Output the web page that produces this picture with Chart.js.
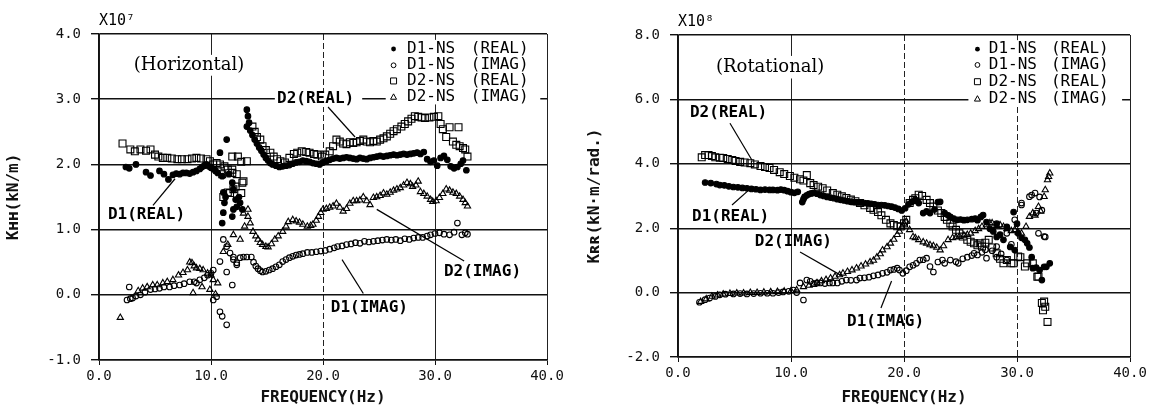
<!DOCTYPE html>
<html><head><meta charset="utf-8">
<script src="https://cdn.jsdelivr.net/npm/chart.js@4.4.1/dist/chart.umd.min.js"></script>
<style>
html,body{margin:0;padding:0;background:#fff;}
#wrap{position:relative;width:1154px;height:410px;overflow:hidden;}
.box{position:absolute;top:0;height:410px;width:577px;}
</style></head><body>
<div id="wrap">
<div class="box" style="left:0"><canvas id="c1" width="577" height="410"></canvas></div>
<div class="box" style="left:577px"><canvas id="c2" width="577" height="410"></canvas></div>
</div>
<script>
// ---------------- DATA: Horizontal (x10^7 kN/m) ----------------
const hTicksX = [0, 10, 20, 30, 40];
const hTicksY = [-1, 0, 1, 2, 3, 4];
const hD1RealF = [2.4,2.7,3.3,4.2,4.6,5.4,5.8,6.2,6.6,6.9,7.2,7.5,7.8,8.1,8.4,8.7,9.0,9.2,9.4,9.6,9.8,10.0,10.2,10.4,10.6,10.8,11.4,11.0,11.1,11.2,11.1,11.0,11.9,12.0,12.2,12.6,12.8,12.0,11.9,12.5,11.6,12.3,11.3,13.2,13.3,13.4,13.2,13.5,13.7,13.9,14.1,14.3,14.5,14.7,14.9,15.1,15.3,15.5,15.8,16.1,16.4,16.7,17.0,17.3,17.6,17.9,18.2,18.5,18.8,19.1,19.4,19.7,20.0,20.3,20.6,20.9,21.2,21.5,21.8,22.1,22.4,22.7,23.0,23.3,23.6,23.9,24.2,24.5,24.8,25.1,25.4,25.7,26.0,26.3,26.6,26.9,27.2,27.5,27.8,28.1,28.4,28.7,29.0,29.3,29.6,29.9,30.2,30.5,30.8,31.1,31.4,31.7,32.0,32.3,32.5,32.8];
const hD1RealV = [1.96,1.94,2.00,1.88,1.83,1.90,1.85,1.77,1.84,1.86,1.85,1.87,1.87,1.86,1.88,1.90,1.93,1.96,1.98,2.00,1.97,1.95,1.93,1.90,1.87,2.18,2.38,1.82,1.57,1.41,1.26,1.10,1.72,1.62,1.46,1.41,1.31,1.31,1.20,1.50,1.85,1.35,1.50,2.84,2.74,2.64,2.58,2.52,2.45,2.38,2.32,2.26,2.21,2.15,2.10,2.06,2.02,2.00,1.98,1.96,1.97,1.98,1.99,2.01,2.03,2.04,2.06,2.05,2.04,2.02,2.01,2.00,2.03,2.05,2.07,2.09,2.10,2.09,2.10,2.11,2.10,2.09,2.08,2.10,2.09,2.08,2.10,2.11,2.12,2.13,2.12,2.13,2.14,2.15,2.14,2.15,2.16,2.15,2.16,2.17,2.18,2.16,2.19,2.08,2.04,2.06,1.98,2.10,2.13,2.07,1.97,1.94,1.96,2.01,2.06,1.91];
const hD1ImagF = [2.7,2.5,2.8,3.0,3.3,3.7,4.1,4.6,5.0,5.4,5.8,6.3,6.7,7.2,7.6,8.1,8.5,8.7,9.0,9.4,9.7,10.0,10.2,10.2,10.5,10.8,11.0,11.4,11.1,11.4,11.7,10.8,12.0,12.3,11.9,11.4,12.6,12.0,12.3,12.9,13.2,13.6,13.8,14.0,14.2,14.4,14.6,14.9,15.2,15.5,15.8,16.1,16.4,16.7,17.0,17.3,17.6,17.9,18.2,18.6,19.0,19.4,19.8,20.2,20.6,21.0,21.3,21.7,22.1,22.5,22.9,23.3,23.7,24.1,24.5,24.9,25.3,25.7,26.1,26.5,26.9,27.3,27.7,28.1,28.5,28.9,29.3,29.6,30.0,30.4,30.8,31.3,31.7,32.0,32.4,32.7,32.9];
const hD1ImagV = [0.12,-0.08,-0.06,-0.05,-0.02,0.00,0.04,0.08,0.09,0.10,0.12,0.12,0.14,0.15,0.17,0.20,0.20,0.18,0.23,0.26,0.30,0.33,0.38,-0.08,-0.03,-0.26,-0.33,-0.46,0.85,0.74,0.64,0.51,0.54,0.46,0.15,0.35,0.57,0.58,0.49,0.58,0.58,0.58,0.50,0.44,0.40,0.37,0.35,0.36,0.38,0.40,0.43,0.46,0.51,0.54,0.57,0.59,0.61,0.62,0.63,0.65,0.65,0.66,0.67,0.68,0.70,0.72,0.74,0.75,0.77,0.78,0.80,0.79,0.82,0.81,0.82,0.83,0.84,0.85,0.84,0.85,0.83,0.86,0.85,0.87,0.88,0.88,0.90,0.92,0.94,0.95,0.93,0.92,0.96,1.10,0.92,0.95,0.93];
const hD2RealF = [2.1,2.8,3.2,3.7,4.2,4.6,5.0,5.3,5.7,6.1,6.5,7.0,7.4,7.9,8.3,8.7,9.1,9.6,9.9,10.2,10.5,10.8,11.2,11.5,11.9,11.9,12.4,12.7,13.2,11.1,11.5,12.0,12.8,12.3,11.9,11.0,11.7,12.2,12.7,12.9,13.7,13.9,14.1,14.4,14.6,14.9,15.3,15.6,15.9,16.2,16.6,17.0,17.4,17.7,18.1,18.5,18.8,19.2,19.5,19.9,20.2,20.6,20.9,21.2,21.5,21.8,22.1,22.4,22.7,23.0,23.3,23.6,23.9,24.2,24.5,24.8,25.1,25.4,25.7,26.0,26.3,26.6,27.0,27.3,27.6,27.9,28.2,28.5,28.8,29.1,29.5,29.9,30.3,30.5,30.7,31.0,31.3,31.6,31.9,32.1,32.2,32.5,32.7,32.9];
const hD2RealV = [2.32,2.23,2.20,2.23,2.21,2.23,2.15,2.12,2.10,2.10,2.09,2.08,2.08,2.08,2.09,2.10,2.09,2.08,2.05,2.00,2.02,2.00,1.97,1.92,1.87,2.12,2.12,2.04,2.05,1.50,1.57,1.62,1.72,1.85,1.92,1.85,1.56,1.66,1.56,1.74,2.58,2.50,2.42,2.38,2.28,2.22,2.18,2.12,2.08,2.05,2.03,2.10,2.16,2.18,2.20,2.19,2.18,2.16,2.15,2.12,2.15,2.20,2.28,2.38,2.35,2.32,2.31,2.34,2.33,2.34,2.36,2.38,2.35,2.34,2.36,2.35,2.38,2.40,2.43,2.47,2.51,2.54,2.58,2.62,2.66,2.70,2.74,2.73,2.72,2.71,2.72,2.73,2.74,2.62,2.54,2.42,2.57,2.35,2.30,2.57,2.28,2.25,2.23,2.12];
const hD2ImagF = [1.9,3.5,3.9,4.3,4.8,5.2,5.7,6.1,6.6,7.1,7.5,7.9,8.1,8.3,8.5,8.7,9.0,9.3,9.7,10.0,10.2,10.6,9.9,8.4,9.2,10.4,11.1,11.5,12.0,12.6,12.9,13.0,13.3,13.3,13.5,13.75,14.0,14.2,14.4,14.6,14.9,15.1,15.4,15.7,16.0,16.4,16.7,16.9,17.3,17.6,17.9,18.2,18.6,18.9,19.1,19.4,19.6,19.8,20.0,20.3,20.6,20.9,21.2,21.5,21.8,22.1,22.4,22.7,23.0,23.3,23.6,23.9,24.2,24.5,24.8,25.1,25.4,25.7,26.0,26.3,26.6,26.9,27.2,27.5,27.8,28.0,28.3,28.5,28.7,29.0,29.3,29.6,29.8,30.1,30.4,30.7,31.0,31.3,31.6,31.9,32.2,32.5,32.7,32.9];
const hD2ImagV = [-0.35,0.06,0.10,0.12,0.15,0.15,0.18,0.20,0.23,0.30,0.34,0.38,0.50,0.49,0.44,0.41,0.40,0.38,0.33,0.30,0.23,0.18,0.08,0.03,0.12,0.01,0.66,0.77,0.92,0.85,1.25,1.05,1.20,1.31,1.10,0.97,0.90,0.85,0.80,0.77,0.74,0.73,0.78,0.85,0.90,0.97,1.05,1.12,1.15,1.13,1.11,1.08,1.05,1.06,1.08,1.14,1.20,1.26,1.31,1.32,1.34,1.36,1.40,1.34,1.28,1.32,1.40,1.44,1.44,1.45,1.50,1.44,1.38,1.49,1.50,1.52,1.56,1.54,1.57,1.60,1.62,1.64,1.68,1.72,1.70,1.66,1.68,1.74,1.58,1.55,1.51,1.46,1.43,1.44,1.49,1.55,1.62,1.60,1.57,1.55,1.51,1.46,1.41,1.36];

// ---------------- DATA: Rotational (x10^8 kN·m/rad.) ----------------
const rTicksX = [0, 10, 20, 30, 40];
const rTicksY = [-2, 0, 2, 4, 6, 8];
const rD1RealF = [2.4,2.9,3.4,3.7,4.1,4.5,4.9,5.3,5.7,6.1,6.5,6.9,7.3,7.7,8.1,8.4,8.8,9.1,9.4,9.7,10.0,10.3,10.6,11.0,11.1,11.2,11.4,11.6,11.8,12.0,12.3,12.6,12.9,13.2,13.5,13.8,14.1,14.4,14.7,15.0,15.3,15.6,15.9,16.2,16.5,16.8,17.1,17.4,17.7,18.0,18.3,18.6,18.9,19.2,19.5,19.8,20.1,20.4,20.7,21.0,21.3,21.7,22.0,22.3,22.7,23.0,23.2,23.6,23.9,24.1,24.4,24.7,25.0,25.3,25.6,26.0,26.3,26.5,26.8,27.0,27.3,27.6,27.9,28.2,28.2,28.5,28.8,29.1,29.4,29.7,29.8,30.0,30.1,30.4,30.7,30.9,31.1,31.3,31.4,31.7,32.0,32.2,32.4,32.6,32.9];
const rD1RealV = [3.42,3.40,3.37,3.34,3.33,3.30,3.28,3.27,3.25,3.24,3.22,3.21,3.19,3.20,3.19,3.19,3.18,3.20,3.18,3.15,3.12,3.10,3.13,2.81,2.90,2.97,3.02,3.06,3.08,3.10,3.07,3.03,3.00,2.97,2.95,2.93,2.90,2.88,2.86,2.84,2.82,2.81,2.80,2.80,2.78,2.77,2.76,2.74,2.72,2.72,2.71,2.69,2.67,2.64,2.60,2.55,2.62,2.74,2.82,2.88,2.78,2.47,2.52,2.47,2.58,2.81,2.82,2.47,2.40,2.35,2.30,2.26,2.27,2.25,2.26,2.28,2.30,2.25,2.35,2.41,2.19,1.98,1.90,2.14,1.73,1.80,1.64,2.04,1.42,2.50,1.32,2.14,1.84,1.70,1.64,1.53,1.40,1.10,0.76,0.78,0.70,0.39,0.80,0.80,0.91];
const rD1ImagF = [1.9,2.4,2.8,3.3,3.7,4.2,4.9,5.5,6.1,6.7,7.3,7.9,8.4,8.9,9.3,9.8,10.2,10.5,10.8,11.1,11.4,11.7,12.0,12.3,12.6,13.0,13.4,13.7,14.1,14.5,14.9,15.3,15.8,16.1,16.5,16.9,17.3,17.7,18.1,18.5,18.8,19.1,19.4,19.6,19.9,20.2,20.5,20.8,21.1,21.4,21.7,22.0,22.3,22.6,23.0,23.4,23.6,24.1,24.6,24.8,25.2,25.6,26.0,26.2,26.5,26.9,27.2,27.3,27.8,28.2,28.2,28.6,29.1,29.1,29.5,29.8,30.4,30.4,31.1,31.3,31.6,32.0,31.7,32.2,31.9,32.4,32.5];
const rD1ImagV = [-0.30,-0.22,-0.17,-0.12,-0.07,-0.05,-0.04,-0.03,-0.04,-0.03,-0.02,-0.02,-0.02,0.00,0.02,0.04,0.08,0.00,0.30,-0.23,0.39,0.35,0.28,0.30,0.30,0.28,0.30,0.30,0.30,0.35,0.39,0.38,0.39,0.45,0.46,0.48,0.52,0.55,0.60,0.63,0.70,0.72,0.76,0.70,0.60,0.68,0.80,0.85,0.91,1.01,1.02,1.07,0.81,0.64,0.95,1.01,0.91,1.01,0.96,0.91,1.05,1.10,1.15,1.22,1.17,1.25,1.33,1.07,1.30,1.43,1.10,1.20,1.01,1.84,1.50,2.26,2.78,2.72,2.98,3.03,3.09,2.97,2.47,2.56,1.84,1.74,1.73];
const rD2RealF = [2.1,2.4,2.7,3.0,3.3,3.7,4.0,4.4,4.8,5.1,5.5,5.9,6.4,6.8,7.3,7.7,8.1,8.5,9.0,9.4,9.9,10.3,10.8,11.1,11.4,11.7,12.0,12.4,12.8,13.2,13.7,14.1,14.5,14.9,15.3,15.7,16.1,16.5,17.0,17.3,17.7,18.0,18.4,18.8,19.1,19.4,19.7,20.0,20.2,20.5,20.8,21.0,21.3,21.6,22.0,22.3,22.6,23.0,23.3,23.6,23.8,24.1,24.3,24.6,24.9,25.2,25.6,25.9,26.2,26.5,26.7,26.9,27.2,27.5,27.8,28.2,28.5,28.8,29.1,29.5,29.7,30.1,30.3,30.7,30.9,31.4,31.8,31.9,32.2,32.4,32.5,32.3,32.7];
const rD2RealV = [4.20,4.27,4.27,4.24,4.20,4.19,4.18,4.15,4.12,4.09,4.06,4.04,4.02,3.98,3.93,3.90,3.87,3.81,3.74,3.68,3.62,3.57,3.52,3.48,3.65,3.40,3.34,3.29,3.24,3.17,3.09,3.04,2.99,2.94,2.89,2.84,2.78,2.71,2.63,2.57,2.50,2.40,2.26,2.15,2.10,2.06,2.05,2.15,2.26,2.78,2.88,2.93,3.04,3.00,2.88,2.78,2.67,2.55,2.47,2.35,2.26,2.15,2.05,1.95,1.84,1.74,1.64,1.58,1.53,1.47,1.53,1.43,1.55,1.64,1.40,1.22,1.05,0.91,1.01,0.91,0.91,1.12,1.10,0.81,0.91,0.91,0.49,0.50,-0.32,-0.28,-0.44,-0.55,-0.91];
const rD2ImagF = [2.0,2.5,3.0,3.5,4.0,4.6,5.2,5.8,6.4,7.0,7.6,8.2,8.8,9.4,10.0,10.5,11.1,11.6,12.0,12.3,12.7,13.1,13.5,13.9,14.3,14.6,15.0,15.4,15.8,16.2,16.6,17.0,17.3,17.6,17.9,18.1,18.5,18.8,19.1,19.4,19.6,19.8,20.0,20.2,20.5,20.8,21.0,21.3,21.7,22.0,22.3,22.6,22.9,23.2,23.5,23.9,24.3,24.6,24.9,25.3,25.6,25.9,26.3,26.6,26.9,27.3,27.6,27.8,28.2,28.5,28.8,29.1,29.5,29.8,30.1,30.4,30.8,31.1,31.4,31.6,31.9,32.1,32.4,32.5,32.7,32.8,32.9];
const rD2ImagV = [-0.28,-0.20,-0.12,-0.08,-0.05,-0.03,-0.02,-0.02,0.00,0.00,0.01,0.02,0.03,0.04,0.05,0.08,0.18,0.22,0.25,0.30,0.36,0.40,0.45,0.50,0.55,0.60,0.65,0.70,0.76,0.82,0.88,0.95,1.00,1.10,1.20,1.32,1.42,1.53,1.65,1.80,1.90,2.04,2.15,2.21,1.95,1.73,1.70,1.64,1.57,1.53,1.48,1.45,1.40,1.32,1.45,1.64,1.70,1.72,1.74,1.78,1.80,1.84,1.92,1.98,2.05,2.10,2.16,2.16,2.08,2.10,2.05,1.98,1.92,1.95,1.88,1.84,2.05,2.36,2.47,2.40,2.67,2.52,2.98,3.19,3.50,3.60,3.71];

const seriesNames = ['D1-NS', 'D1-NS', 'D2-NS', 'D2-NS'];
const seriesParts = ['(REAL)', '(IMAG)', '(REAL)', '(IMAG)'];

// ---------------- helpers ----------------
const MONO = '"DejaVu Sans Mono", "Liberation Mono", monospace';
Chart.defaults.font.family = MONO;
Chart.defaults.color = '#111';

const STYLES = [
  {pointStyle:'circle', radius:2.8, fill:'#000'},
  {pointStyle:'circle', radius:2.8, fill:'rgba(0,0,0,0)'},
  {pointStyle:'rect', radius:4.9, fill:'rgba(0,0,0,0)'},
  {pointStyle:'triangle', radius:3.6, fill:'rgba(0,0,0,0)'}
];

function mk(label, xs, ys, k) {
  const s = STYLES[k];
  return {
    label: label,
    data: xs.map((x, i) => ({x: x, y: ys[i]})),
    pointStyle: s.pointStyle,
    pointRadius: s.radius,
    pointBackgroundColor: s.fill,
    pointBorderColor: '#000',
    pointBorderWidth: 1.1,
    showLine: false
  };
}

function drawMarker(ctx, k, x, y) {
  const s = STYLES[k];
  ctx.save();
  ctx.lineWidth = 1; ctx.strokeStyle = '#000'; ctx.fillStyle = '#000';
  ctx.beginPath();
  if (s.pointStyle === 'circle') {
    ctx.arc(x, y, 2.4, 0, Math.PI * 2);
    if (k === 0) ctx.fill(); else ctx.stroke();
  } else if (s.pointStyle === 'rect') {
    ctx.rect(x - 3, y - 3, 6, 6); ctx.stroke();
  } else {
    ctx.moveTo(x, y - 3.4); ctx.lineTo(x + 3, y + 2); ctx.lineTo(x - 3, y + 2); ctx.closePath(); ctx.stroke();
  }
  ctx.restore();
}

const annotPlugin = {
  id: 'annot',
  beforeDatasetsDraw(chart, args, o) {
    const ctx = chart.ctx, X = chart.scales.x, Y = chart.scales.y;
    ctx.save();
    ctx.fillStyle = '#fff';
    (o.blanks || []).forEach(b => {
      const x1 = X.getPixelForValue(b[0]), x2 = X.getPixelForValue(b[2]);
      const y1 = Y.getPixelForValue(b[1]), y2 = Y.getPixelForValue(b[3]);
      ctx.fillRect(Math.min(x1, x2), Math.min(y1, y2), Math.abs(x2 - x1), Math.abs(y2 - y1));
    });
    ctx.restore();
  },
  afterDatasetsDraw(chart, args, o) {
    const ctx = chart.ctx, X = chart.scales.x, Y = chart.scales.y, A = chart.chartArea;
    ctx.save();
    ctx.fillStyle = '#000'; ctx.strokeStyle = '#000';
    // exponent
    ctx.font = '15px ' + MONO; ctx.textBaseline = 'alphabetic'; ctx.textAlign = 'left';
    ctx.fillText(o.exponent, A.left, A.top - 9);
    // panel title
    ctx.font = '18px "DejaVu Serif", serif';
    ctx.textBaseline = 'middle';
    ctx.fillText(o.title.text, X.getPixelForValue(o.title.at[0]), Y.getPixelForValue(o.title.at[1]));
    // curve labels + leader lines
    ctx.font = 'bold 16px ' + MONO;
    o.labels.forEach(l => {
      ctx.fillText(l.text, X.getPixelForValue(l.at[0]), Y.getPixelForValue(l.at[1]));
      ctx.lineWidth = 1.2;
      ctx.beginPath();
      ctx.moveTo(X.getPixelForValue(l.line[0]), Y.getPixelForValue(l.line[1]));
      ctx.lineTo(X.getPixelForValue(l.line[2]), Y.getPixelForValue(l.line[3]));
      ctx.stroke();
    });
    // legend
    ctx.font = '16px ' + MONO;
    const lg = o.legend;
    lg.rows.forEach((ry, k) => {
      const yy = Y.getPixelForValue(ry);
      drawMarker(ctx, k, X.getPixelForValue(lg.marker), yy);
      ctx.fillText(seriesNames[k], X.getPixelForValue(lg.name), yy);
      ctx.fillText(seriesParts[k], X.getPixelForValue(lg.part), yy);
    });
    ctx.restore();
  }
};

function makeChart(id, cfg) {
  const dashAt = cfg.dashAt;
  return new Chart(document.getElementById(id), {
    type: 'scatter',
    data: { datasets: cfg.datasets },
    options: {
      responsive: false,
      animation: false,
      layout: { padding: cfg.padding },
      plugins: { legend: { display: false }, tooltip: { enabled: false }, annot: cfg.annot },
      scales: {
        x: {
          type: 'linear', min: cfg.xTicks[0], max: cfg.xTicks[cfg.xTicks.length - 1],
          afterFit: s => { s.height = cfg.xAxisH; },
          afterBuildTicks: s => { s.ticks = cfg.xTicks.map(v => ({value: v})); },
          ticks: { callback: v => Number(v).toFixed(1), font: {size: 14}, padding: 3, color: '#111', maxRotation: 0 },
          grid: { color: '#222', lineWidth: 1, tickLength: 5, tickColor: '#111' },
          border: { display: true, color: '#111', width: 1.5,
            dash: c => (c.tick && dashAt.includes(c.tick.value)) ? [6, 3] : [] },
          title: { display: true, text: 'FREQUENCY(Hz)', font: {size: 16, weight: 'bold'}, padding: {top: 0, bottom: 3}, color: '#111' }
        },
        y: {
          type: 'linear', min: cfg.yTicks[0], max: cfg.yTicks[cfg.yTicks.length - 1],
          afterFit: s => { s.width = cfg.yAxisW; },
          afterBuildTicks: s => { s.ticks = cfg.yTicks.map(v => ({value: v})); },
          ticks: { callback: v => Number(v).toFixed(1), font: {size: 14}, padding: 10, color: '#111' },
          grid: { color: '#111', lineWidth: 1.4, tickLength: 8, tickColor: '#111' },
          border: { display: true, color: '#111', width: 1.5 },
          title: { display: true, text: cfg.yTitle, font: {size: 16, weight: 'bold'}, padding: {top: cfg.yTitlePad, bottom: 0}, color: '#111' }
        }
      }
    },
    plugins: [annotPlugin]
  });
}

// ---------------- Horizontal chart ----------------
makeChart('c1', {
  xTicks: hTicksX, yTicks: hTicksY, dashAt: [20],
  padding: {left: 0, right: 30, top: 34, bottom: 0},
  xAxisH: 50, yAxisW: 99, yTitlePad: 4,
  yTitle: 'Kʜʜ(kN/m)',
  datasets: [
    mk('D1-NS (REAL)', hD1RealF, hD1RealV, 0),
    mk('D1-NS (IMAG)', hD1ImagF, hD1ImagV, 1),
    mk('D2-NS (REAL)', hD2RealF, hD2RealV, 2),
    mk('D2-NS (IMAG)', hD2ImagF, hD2ImagV, 3)
  ],
  annot: {
    exponent: 'X10⁷',
    title: {text: '(Horizontal)', at: [3.1, 3.52]},
    blanks: [[3.0, 3.68, 15.6, 3.36], [15.7, 3.12, 23.5, 2.88], [25.6, 3.91, 39.4, 2.92]],
    labels: [
      {text: 'D2(REAL)', at: [15.9, 3.0], line: [20.45, 2.88, 22.86, 2.42]},
      {text: 'D1(REAL)', at: [0.8, 1.22], line: [4.82, 1.37, 6.79, 1.78]},
      {text: 'D2(IMAG)', at: [30.8, 0.35], line: [24.8, 1.31, 32.6, 0.52]},
      {text: 'D1(IMAG)', at: [20.7, -0.2], line: [21.7, 0.54, 23.6, 0.02]}
    ],
    legend: {marker: 26.3, name: 27.5, part: 33.2, rows: [3.77, 3.52, 3.28, 3.03]}
  }
});

// ---------------- Rotational chart ----------------
makeChart('c2', {
  xTicks: rTicksX, yTicks: rTicksY, dashAt: [20, 30],
  padding: {left: 0, right: 24, top: 35, bottom: 0},
  xAxisH: 53, yAxisW: 101, yTitlePad: 8,
  yTitle: 'Kʀʀ(kN·m/rad.)',
  datasets: [
    mk('D1-NS (REAL)', rD1RealF, rD1RealV, 0),
    mk('D1-NS (IMAG)', rD1ImagF, rD1ImagV, 1),
    mk('D2-NS (REAL)', rD2RealF, rD2RealV, 2),
    mk('D2-NS (IMAG)', rD2ImagF, rD2ImagV, 3)
  ],
  annot: {
    exponent: 'X10⁸',
    title: {text: '(Rotational)', at: [3.36, 7.0]},
    blanks: [[3.2, 7.35, 15.6, 6.65], [25.7, 7.84, 39.3, 5.83]],
    labels: [
      {text: 'D2(REAL)', at: [1.06, 5.58], line: [4.6, 5.26, 6.55, 4.11]},
      {text: 'D1(REAL)', at: [1.24, 2.35], line: [4.78, 2.72, 6.28, 3.19]},
      {text: 'D2(IMAG)', at: [6.8, 1.57], line: [10.8, 1.26, 14.5, 0.52]},
      {text: 'D1(IMAG)', at: [14.96, -0.91], line: [17.96, -0.48, 18.9, 0.36]}
    ],
    legend: {marker: 26.5, name: 27.5, part: 33.0, rows: [7.56, 7.07, 6.55, 6.01]}
  }
});
</script>
</body></html>
